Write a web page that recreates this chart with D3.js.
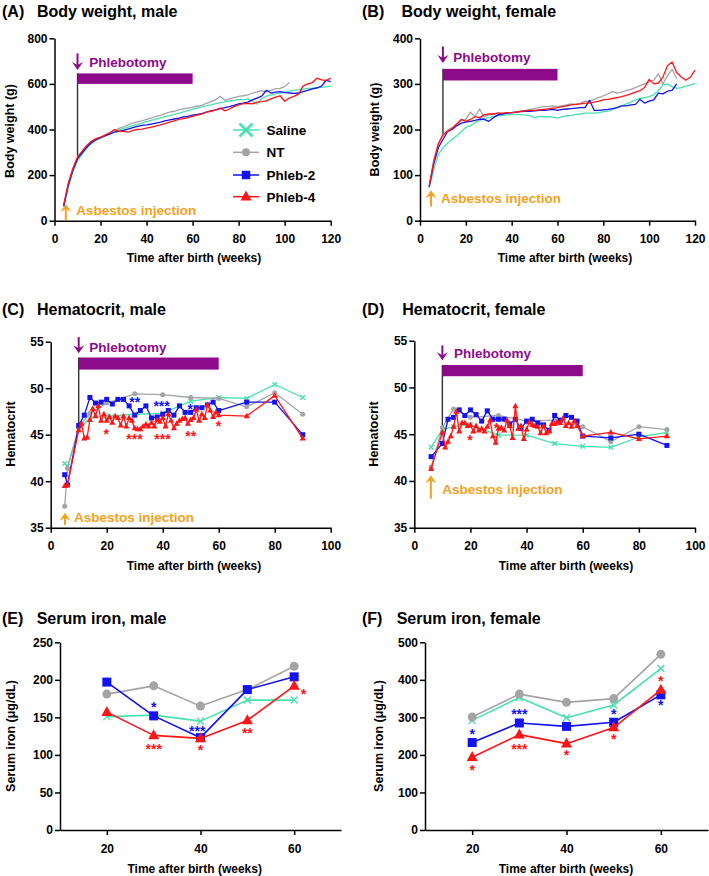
<!DOCTYPE html>
<html><head><meta charset="utf-8">
<script src="https://cdn.jsdelivr.net/npm/d3@7"></script>
<style>body{margin:0;background:#fff;} svg{display:block;}</style>
</head><body><svg id="c" width="709" height="876"></svg>
<script>
// ---------------- DATA ----------------
const groups = ["Saline", "NT", "Phleb-2", "Phleb-4"];

// (A) Body weight, male (g)
const weeksA = [4,6,8,10,12,14,16,18,20,22,24,26,28,30,32,34,36,38,40,42,44,46,48,50,52,54,56,58,60,62,64,66,68,70,72,74,76,78,80,82,84,86,88,90,92,94,96,98,100,102,104,106,108,110,112,114,116,118,120];
const weeksA_NT = [4,6,8,10,12,14,16,18,20,22,24,26,28,30,32,34,36,38,40,42,44,46,48,50,52,54,56,58,60,62,64,66,68,70,72,74,76,78,80,82,84,86,88,90,92,94,96,98,100,102];
const bwMaleSaline = [60,150,215,262,292,318,338,352,363,373, 382,390,398,404,410,417,423,428,434,440, 446,450,456,461,466,471,477,483,489,494, 499,505,508,513,518,521,525,528,532,530, 534,524,512,535,546,551,556,560,565,568, 572,575,577,580,581,583,585,587,590];
const bwMaleNT = [62,160,225,275,300,325,342,356,366,376, 386,394,405,412,420,428,433,438,444,450, 457,462,470,476,480,486,490,494,498,502, 506,515,522,530,546,528,534,540,545,548, 552,560,565,570,566,572,578,580,588,606];
const bwMaleP2 = [65,155,222,272,298,322,342,355,364,372, 380,388,392,396,402,408,414,418,420,424, 428,432,438,442,446,450,455,458,463,466, 470,476,482,486,492,496,500,506,512,516, 520,530,538,546,572,560,564,566,562,560, 558,560,566,572,578,582,590,616,610];
const bwMaleP4 = [70,165,230,280,305,330,348,360,367,375, 385,400,392,392,388,396,400,402,406,410, 415,420,426,432,438,444,448,452,458,463, 468,476,480,486,494,482,490,500,508,514, 515,512,520,522,526,534,542,548,524,538, 545,555,590,600,606,625,618,615,625];

// (B) Body weight, female (g)
const weeksB = weeksA;
const weeksB_short = [4,6,8,10,12,14,16,18,20,22,24,26,28,30,32,34,36,38,40,42,44,46,48,50,52,54,56,58,60,62,64,66,68,70,72,74,76,78,80,82,84,86,88,90,92,94,96,98,100,102,104,106,108,110,112];
const bwFemaleSaline = [72,112,145,160,170,178,186,195,205,208, 215,220,224,226,228,230,231,232,233,233, 232,232,230,226,229,228,228,227,225,228, 230,231,233,234,236,236,236,237,239,240, 244,248,252,256,260,265,268,270,272,276, 285,298,300,294,290,292,295,298,301];
const bwFemaleNT = [76,132,170,190,198,204,212,220,222,238, 228,245,228,232,234,236,235,236,237,238, 240,242,244,246,248,250,250,252,250,252, 254,256,255,258,262,262,266,270,274,278, 283,280,282,285,288,292,296,300,305,308, 322,300,318,332,312];
const bwFemaleP2 = [74,125,160,178,195,200,208,214,216,218, 220,223,222,218,226,232,234,236,237,238, 239,240,240,241,242,242,243,244,242,244, 245,246,247,248,248,264,242,242,243,244, 246,248,252,252,254,255,266,258,262,265, 280,278,284,286,300];
const bwFemaleP4 = [75,130,168,188,196,202,212,222,218,222, 228,226,232,234,234,236,236,237,237,238, 240,241,242,242,243,244,245,247,248,250, 252,254,255,256,258,258,260,262,265,266, 268,270,272,275,278,282,285,292,310,300, 302,315,340,348,325,315,308,315,330];

// (C) Hematocrit, male
const weeksHct = [5,6,10,14,20,30,40,50,60,70,80,90];
const weeksCP2 = [5,6,10,12,14,16,18,20,22,24,26,28,30,32,34,36,38,40,42,44,46,48,50,52,54,56,58,60,70,80,90];
const weeksCP4 = [5,6,10,11,12,13,14,15,16,17,18,19,20,21,22,23,24,25,26,27,28,29,30,31,32,33,34,35,36,37,38,39,40,41,42,43,44,45,46,47,48,49,50,51,52,53,54,55,56,57,58,59,60,70,80,90];
const hctMaleSaline = [41.9,41.6,45.5,46.8,47.0,47.2,47.3,48.6,49.0,48.9,50.4,49.0];
const hctMaleNT = [37.3,41.4,45.8,47.3,48.4,49.4,49.3,49.0,48.9,48.0,49.5,47.2];
const hctMaleP2 = [40.7,39.6,46.0,47.1,49.0,48.4,48.5,48.8,48.3,48.8,48.8,48.1,47.1,47.6,48.1,46.8,46.9,47.2,47.6,47.1,48.1,47.4,47.4,47.9,47.9,48.2,48.5,47.6,48.5,48.5,45.0];
const hctMaleP4 = [39.5,39.6, 45.5,46.2,44.6,44.7,46.6,47.8,47.0,48.1,46.5,47.2, 46.5,46.9,46.3,47.0,46.8,46.0,47.0,45.9,46.8,46.5, 45.7,45.6,45.6,45.9,46.1,45.9,46.3,45.9,46.6,46.4, 46.8,45.9,47.2,46.5,45.7,46.2,46.5,46.7,46.8,46.2, 46.6,46.8,47.7,46.5,47.2,46.8,48.2,47.6,46.9,47.4, 47.1, 47.0,49.2,44.6];

// (D) Hematocrit, female
const weeksD = [6,10,14,20,30,40,50,60,70,80,90];
const weeksDP2 = [6,10,12,14,16,18,20,22,24,26,28,30,32,34,36,38,40,42,44,46,48,50,52,54,56,58,60,70,80,90];
const weeksDP4 = [6,10,11,12,13,14,15,16,17,18,19,20,21,22,23,24,25,26,27,28,29,30,31,32,33,34,35,36,37,38,39,40,41,42,43,44,45,46,47,48,49,50,51,52,53,54,55,56,57,58,60,70,80,90];
const hctFemaleSaline = [43.6,45.5,45.8,46.0,44.9,44.9,44.0,43.7,43.6,44.7,45.2];
const hctFemaleNT = [41.5,45.7,47.7,46.8,47.0,46.4,46.5,45.8,44.2,45.8,45.5];
const hctFemaleP2 = [42.6,44.0,46.6,46.8,47.6,47.0,47.6,47.1,46.4,47.5,46.6,46.6,46.6,46.1,46.6,45.6,46.4,46.6,46.2,46.0,45.4,47.0,46.5,47.0,46.8,46.4,44.8,44.6,45.0,43.8];
const hctFemaleP4 = [41.3, 45.2,43.6,44.2,44.8,45.8,47.4,45.3,46.2,46.2,45.9, 46.0,45.3,45.9,45.4,45.6,45.3,45.8,46.5,44.8,44.1, 45.6,45.7,45.4,46.5,45.9,44.6,48.0,45.6,45.9,44.5, 45.5,46.3,46.0,45.9,45.8,45.1,45.9,45.1,45.3,46.1, 46.1,46.3,46.2,46.7,45.9,46.2,45.8,46.4,45.9, 44.8,45.2,44.5,44.8];

// (E)/(F) Serum iron (µg/dL)
const weeksIron = [20,30,40,50,60];
const ironMaleSaline = [151,153,145,173,173];
const ironMaleNT = [181,192,165,187,218];
const ironMaleP2 = [197,152,123,187,204];
const ironMaleP4 = [157,126,122,146,192];
const ironFemaleSaline = [292,353,299,333,430];
const ironFemaleNT = [301,362,340,350,468];
const ironFemaleP2 = [233,285,276,287,360];
const ironFemaleP4 = [194,254,230,273,373];

// significance marks: [week, value, label]
const sigC_P2 = [[30,48.7,"**"],[39.6,48.3,"***"],[49.8,48.0,"*"]];
const sigC_P4 = [[19.8,45.3,"*"],[29.9,44.7,"***"],[39.9,44.7,"***"],[50,45.1,"**"],[59.9,46.2,"*"]];
const sigD_P4 = [[19.8,44.6,"*"],[29.3,45.9,"*"]];
const sigE_P2 = [[30,166,"*"],[39.3,134,"***"]];
const sigE_P4 = [[30,111,"***"],[40,109,"*"],[50,132,"**"],[62,184,"*"]];
const sigF_P2 = [[20,262,"*"],[30,313,"***"],[50,313,"*"],[60,337,"*"]];
const sigF_P4 = [[20,164,"*"],[30,222,"***"],[40,204,"*"],[50,249,"*"],[60,401,"*"]];

// ---------------- STYLE ----------------
const FONT = "'Liberation Sans', Arial, Helvetica, sans-serif";
const COL = {"Saline":"#47E2AE", "NT":"#A4A4A4", "Phleb-2":"#1212F2", "Phleb-4":"#FF1515"};
const MARK = {"Saline":"x", "NT":"circle", "Phleb-2":"square", "Phleb-4":"tri"};
const PURPLE = "#8D0B8A", ORANGE = "#F4A21E";

const svg = d3.select("#c");
svg.append("rect").attr("width",709).attr("height",876).attr("fill","#fff");

function marker(g, type, cx, cy, sz, color){
  if(type==="x"){
    const h=sz/2;
    g.append("path").attr("d",`M${cx-h},${cy-h}L${cx+h},${cy+h}M${cx-h},${cy+h}L${cx+h},${cy-h}`)
      .attr("stroke",color).attr("stroke-width", sz>9?2.6:1.4).attr("fill","none");
  } else if(type==="circle"){
    g.append("circle").attr("cx",cx).attr("cy",cy).attr("r",sz/2).attr("fill",color);
  } else if(type==="square"){
    g.append("rect").attr("x",cx-sz/2).attr("y",cy-sz/2).attr("width",sz).attr("height",sz).attr("fill",color);
  } else {
    const w=sz*1.1, h=sz*1.0;
    g.append("path").attr("d",`M${cx},${cy-h*0.62}L${cx+w/2},${cy+h*0.38}L${cx-w/2},${cy+h*0.38}Z`).attr("fill",color);
  }
}

function arrow(x, y0, y1, color){ // head at y1
  const dir = Math.sign(y1-y0);
  svg.append("line").attr("x1",x).attr("x2",x).attr("y1",y0).attr("y2",y1-dir*4)
    .attr("stroke",color).attr("stroke-width",2);
  svg.append("path").attr("d",`M${x},${y1}L${x-5.5},${y1-dir*8}L${x},${y1-dir*5}L${x+5.5},${y1-dir*8}Z`).attr("fill",color);
}

function panel(p){
  const x = d3.scaleLinear().domain(p.xd).range(p.xr);
  const y = d3.scaleLinear().domain(p.yd).range(p.yr);
  // titles
  svg.append("text").attr("x",p.tx[0]).attr("y",p.ty).text(p.letter)
    .attr("font-family",FONT).attr("font-weight","bold").attr("font-size",16);
  svg.append("text").attr("x",p.tx[1]).attr("y",p.ty).text(p.title)
    .attr("font-family",FONT).attr("font-weight","bold").attr("font-size",16);
  // annotations
  if(p.bar){
    const b=p.bar;
    svg.append("line").attr("x1",x(b.x[0])).attr("x2",x(b.x[0])).attr("y1",y(b.vline)).attr("y2",y(b.y[1]))
      .attr("stroke","#333").attr("stroke-width",1.4);
    svg.append("rect").attr("x",x(b.x[0])).attr("width",x(b.x[1])-x(b.x[0]))
      .attr("y",y(b.y[1])).attr("height",y(b.y[0])-y(b.y[1])).attr("fill",PURPLE);
    arrow(x(b.arrow[0]), y(b.arrow[1]), y(b.arrow[2]), PURPLE);
    svg.append("text").attr("x",x(b.text[0])).attr("y",y(b.text[1])).text("Phlebotomy")
      .attr("font-family",FONT).attr("font-weight","bold").attr("font-size",13.5).attr("fill",PURPLE);
    const a=p.asb;
    arrow(x(a.arrow[0]), y(a.arrow[1]), y(a.arrow[2]), ORANGE);
    svg.append("text").attr("x",x(a.text[0])).attr("y",y(a.text[1])).text("Asbestos injection")
      .attr("font-family",FONT).attr("font-weight","bold").attr("font-size",13.5).attr("fill",ORANGE);
  }
  // series
  const line = d3.line().x(d=>x(d[0])).y(d=>y(d[1]));
  p.series.forEach(s=>{
    const pts = s.weeks.map((w,i)=>[w, s.vals[i]]);
    const g = svg.append("g");
    g.append("path").datum(pts).attr("d",line).attr("fill","none")
      .attr("stroke",COL[s.name]).attr("stroke-width",p.lw).attr("stroke-linejoin","round");
    if(p.msize) pts.forEach(d=>marker(g, MARK[s.name], x(d[0]), y(d[1]), p.msize[s.name], COL[s.name]));
  });
  // significance
  (p.sig||[]).forEach(([arr,name])=>{
    arr.forEach(([w,v,t])=>{
      svg.append("text").attr("x",x(w)).attr("y",y(v)+7).attr("text-anchor","middle").text(t)
        .attr("font-family",FONT).attr("font-weight","bold").attr("font-size",14).attr("fill",COL[name]);
    });
  });
  // axes
  const gx = svg.append("g").attr("transform",`translate(0,${p.yr[0]})`)
    .call(d3.axisBottom(x).tickValues(p.xticks).tickSize(5).tickSizeOuter(0).tickPadding(9));
  const gy = svg.append("g").attr("transform",`translate(${p.xr[0]},0)`)
    .call(d3.axisLeft(y).tickValues(p.yticks).tickSize(5).tickSizeOuter(0).tickPadding(2));
  [gx,gy].forEach(g=>{
    g.attr("font-family",FONT).attr("font-size",12).attr("font-weight","bold");
    g.selectAll("path,line").attr("stroke","#000").attr("stroke-width",1.5);
    g.selectAll("text").attr("fill","#000");
  });
  svg.append("text").attr("x",p.xt[0]).attr("y",p.xt[1]).attr("text-anchor","middle").text("Time after birth (weeks)")
    .attr("font-family",FONT).attr("font-weight","bold").attr("font-size",12);
  svg.append("text").attr("transform",`translate(${p.yt[0]},${p.yt[1]}) rotate(-90)`).attr("text-anchor","middle").text(p.ylabel)
    .attr("font-family",FONT).attr("font-weight","bold").attr("font-size",12.5);
  return {x,y};
}

const smallM = {"Saline":4.5,"NT":5,"Phleb-2":5,"Phleb-4":5.5};
const bigM = {"Saline":7,"NT":9,"Phleb-2":9,"Phleb-4":10};

// (A)
panel({letter:"(A)", title:"Body weight, male", tx:[2,37], ty:17,
  xd:[0,120], xr:[54.5,330.7], yd:[0,800], yr:[220.7,38.3],
  xticks:[0,20,40,60,80,100,120], yticks:[0,200,400,600,800], lw:1.3,
  xt:[194,262], yt:[13.5,131], ylabel:"Body weight (g)",
  bar:{x:[10,60], y:[600,646], vline:285, arrow:[10,734,661], text:[15.1,675]},
  asb:{arrow:[4.9,3,73], text:[9.4,25]},
  series:[{name:"Saline",weeks:weeksA,vals:bwMaleSaline},{name:"NT",weeks:weeksA_NT,vals:bwMaleNT},
          {name:"Phleb-2",weeks:weeksA,vals:bwMaleP2},{name:"Phleb-4",weeks:weeksA,vals:bwMaleP4}]
});
// legend
const legY = [130,152.3,175,196.7];
const legM = {"Saline":13,"NT":8,"Phleb-2":8.5,"Phleb-4":10};
groups.forEach((gname,i)=>{
  const g = svg.append("g");
  g.append("line").attr("x1",233).attr("x2",259).attr("y1",legY[i]).attr("y2",legY[i]).attr("stroke",COL[gname]).attr("stroke-width",1.5);
  marker(g, MARK[gname], 246, legY[i], legM[gname], COL[gname]);
  g.append("text").attr("x",266.5).attr("y",legY[i]+5).text(gname)
    .attr("font-family",FONT).attr("font-weight","bold").attr("font-size",13.5);
});

// (B)
panel({letter:"(B)", title:"Body weight, female", tx:[362,401.5], ty:17,
  xd:[0,120], xr:[420,695], yd:[0,400], yr:[220.7,38.3],
  xticks:[0,20,40,60,80,100,120], yticks:[0,100,200,300,400], lw:1.3,
  xt:[565,262], yt:[379,129.5], ylabel:"Body weight (g)",
  bar:{x:[10,60], y:[307.5,333], vline:187, arrow:[10,382,346], text:[14.5,348.7]},
  asb:{arrow:[4.8,31,67], text:[9.2,38]},
  series:[{name:"Saline",weeks:weeksB,vals:bwFemaleSaline},{name:"NT",weeks:weeksB_short,vals:bwFemaleNT},
          {name:"Phleb-2",weeks:weeksB_short,vals:bwFemaleP2},{name:"Phleb-4",weeks:weeksB,vals:bwFemaleP4}]
});

// (C)
panel({letter:"(C)", title:"Hematocrit, male", tx:[2,37], ty:315,
  xd:[0,100], xr:[50.7,330.7], yd:[35,55], yr:[527.7,341.7],
  xticks:[0,20,40,60,80,100], yticks:[35,40,45,50,55], lw:1.3, msize:smallM,
  xt:[194,570], yt:[14.5,434], ylabel:"Hematocrit",
  bar:{x:[10,60], y:[52.0,53.3], vline:46.0, arrow:[10,55.5,53.75], text:[13.8,53.9]},
  asb:{arrow:[5.1,35.3,36.6], text:[8.3,35.65]},
  series:[{name:"Saline",weeks:weeksHct,vals:hctMaleSaline},{name:"NT",weeks:weeksHct,vals:hctMaleNT},
          {name:"Phleb-2",weeks:weeksCP2,vals:hctMaleP2},{name:"Phleb-4",weeks:weeksCP4,vals:hctMaleP4}],
  sig:[[sigC_P2,"Phleb-2"],[sigC_P4,"Phleb-4"]]
});

// (D)
panel({letter:"(D)", title:"Hematocrit, female", tx:[362,402.3], ty:315,
  xd:[0,100], xr:[414.3,695], yd:[35,55], yr:[527.7,340.7],
  xticks:[0,20,40,60,80,100], yticks:[35,40,45,50,55], lw:1.3, msize:smallM,
  xt:[566,570], yt:[378,434], ylabel:"Hematocrit",
  bar:{x:[10,60], y:[51.2,52.4], vline:45.8, arrow:[10,54.5,52.9], text:[14.1,53.2]},
  asb:{arrow:[5.9,38.1,40.6], text:[10,38.6]},
  series:[{name:"Saline",weeks:weeksD,vals:hctFemaleSaline},{name:"NT",weeks:weeksD,vals:hctFemaleNT},
          {name:"Phleb-2",weeks:weeksDP2,vals:hctFemaleP2},{name:"Phleb-4",weeks:weeksDP4,vals:hctFemaleP4}],
  sig:[[sigD_P4,"Phleb-4"]]
});

// (E)
panel({letter:"(E)", title:"Serum iron, male", tx:[2,36.7], ty:623.5,
  xd:[10,70], xr:[60,341], yd:[0,250], yr:[830,642.3],
  xticks:[20,40,60], yticks:[0,50,100,150,200,250], lw:1.6, msize:bigM,
  xt:[194.7,873], yt:[15,736], ylabel:"Serum iron (\u03bcg/dL)",
  series:[{name:"Saline",weeks:weeksIron,vals:ironMaleSaline},{name:"NT",weeks:weeksIron,vals:ironMaleNT},
          {name:"Phleb-2",weeks:weeksIron,vals:ironMaleP2},{name:"Phleb-4",weeks:weeksIron,vals:ironMaleP4}],
  sig:[[sigE_P2,"Phleb-2"],[sigE_P4,"Phleb-4"]]
});

// (F)
panel({letter:"(F)", title:"Serum iron, female", tx:[362,396.7], ty:623.5,
  xd:[10,70], xr:[425,708], yd:[0,500], yr:[830,642.3],
  xticks:[20,40,60], yticks:[0,100,200,300,400,500], lw:1.6, msize:bigM,
  xt:[566,873], yt:[383,736], ylabel:"Serum iron (\u03bcg/dL)",
  series:[{name:"Saline",weeks:weeksIron,vals:ironFemaleSaline},{name:"NT",weeks:weeksIron,vals:ironFemaleNT},
          {name:"Phleb-2",weeks:weeksIron,vals:ironFemaleP2},{name:"Phleb-4",weeks:weeksIron,vals:ironFemaleP4}],
  sig:[[sigF_P2,"Phleb-2"],[sigF_P4,"Phleb-4"]]
});
</script>
</body></html>
